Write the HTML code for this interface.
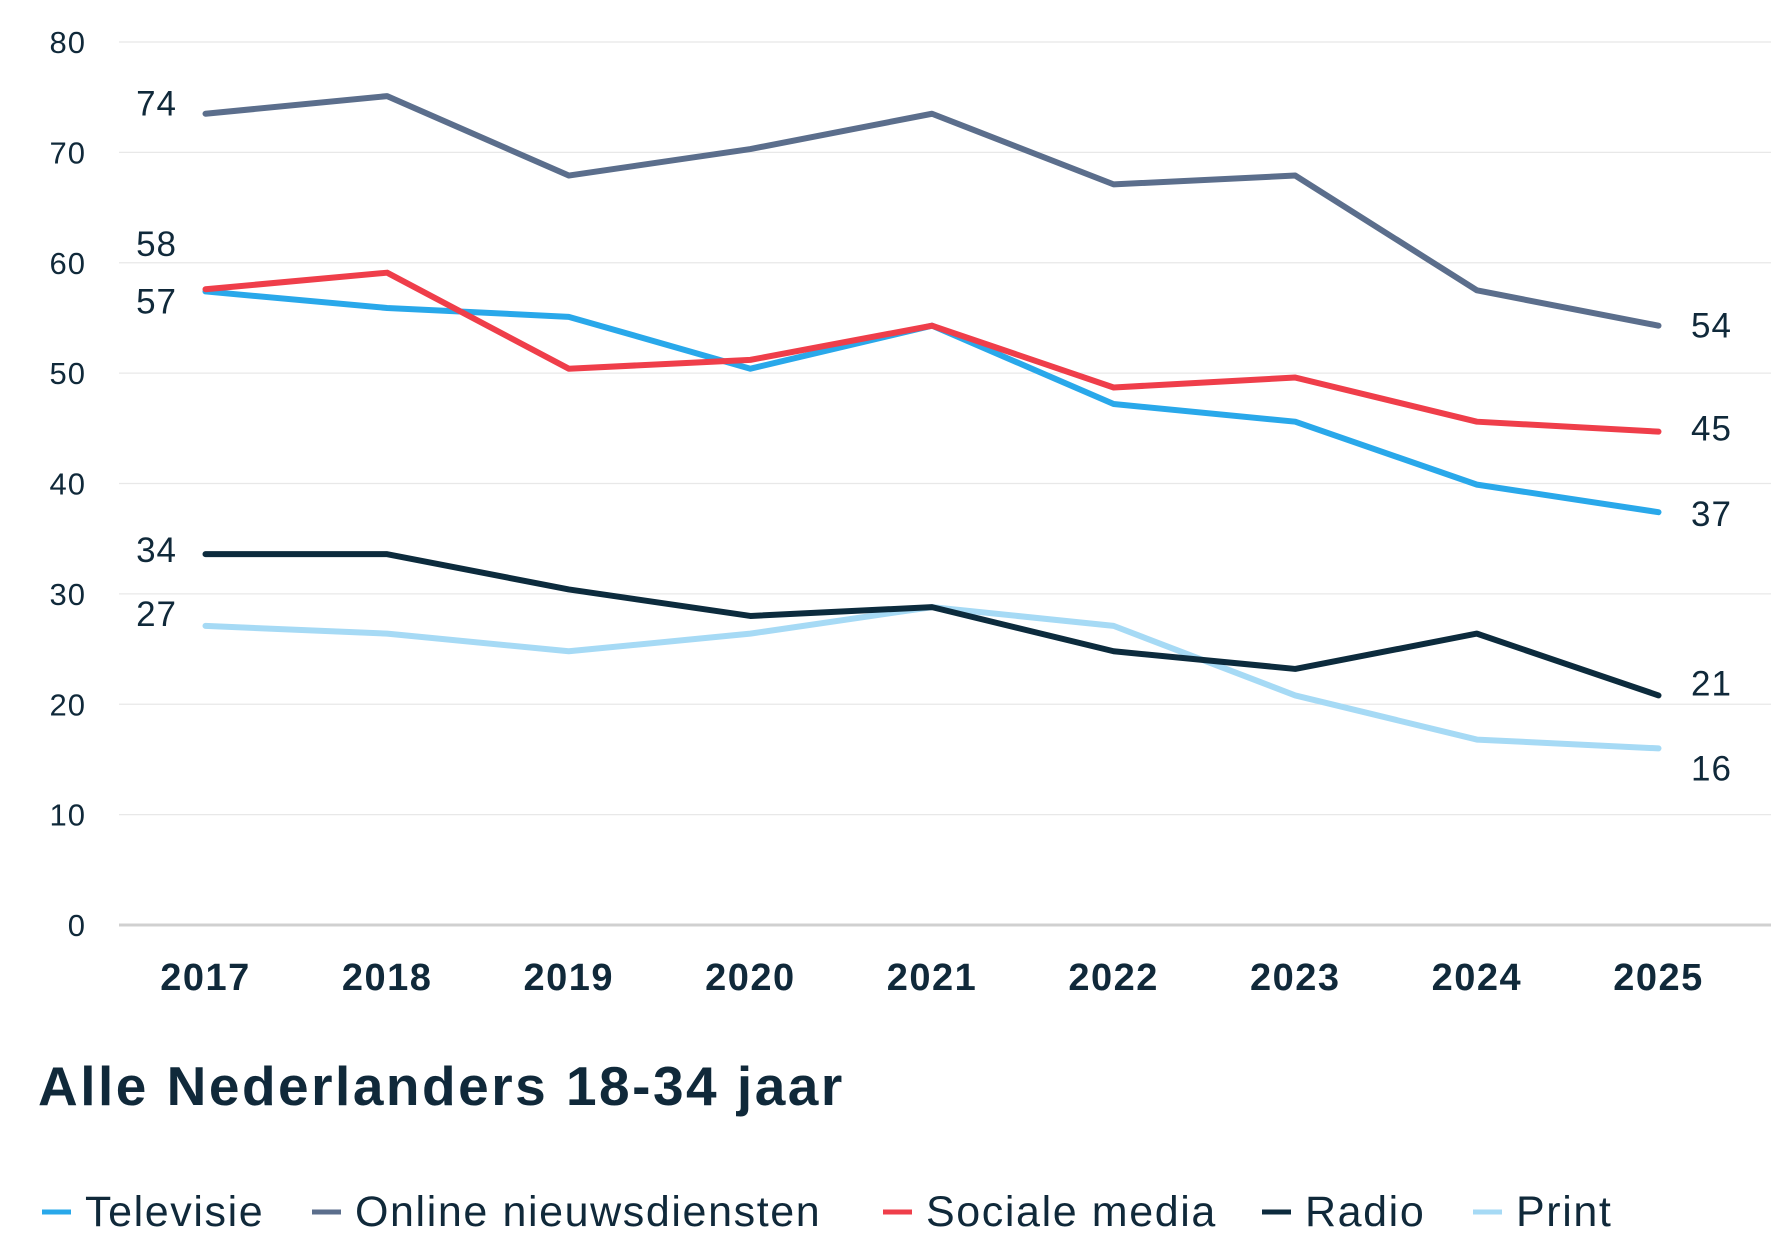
<!DOCTYPE html>
<html><head><meta charset="utf-8"><style>
body{margin:0;background:#fff;}
svg{display:block;font-family:"Liberation Sans",sans-serif;}
</style></head><body>
<svg id="chart" width="1780" height="1260" viewBox="0 0 1780 1260">
<g id="grid"></g>
<g id="lines"></g>
<g id="labels"></g>
<text x="38" y="1105" font-size="55" font-weight="bold" letter-spacing="2.5" fill="#10293a">Alle Nederlanders 18-34 jaar</text>
<g id="legend"></g>
</svg>
<script>
const years = ["2017","2018","2019","2020","2021","2022","2023","2024","2025"];
const yTicks = [0,10,20,30,40,50,60,70,80];
const televisie = [57.4,55.9,55.1,50.4,54.3,47.2,45.6,39.9,37.4];
const online = [73.5,75.1,67.9,70.3,73.5,67.1,67.9,57.5,54.3];
const sociaal = [57.6,59.1,50.4,51.2,54.3,48.7,49.6,45.6,44.7];
const radio = [33.6,33.6,30.4,28.0,28.8,24.8,23.2,26.4,20.8];
const print = [27.1,26.4,24.8,26.4,28.8,27.1,20.8,16.8,16.0];
const seriesNames = ["Televisie","Online nieuwsdiensten","Sociale media","Radio","Print"];

const NS="http://www.w3.org/2000/svg";
const x0=205.5,x1=1658.5,yTop=42,yBot=925,vMax=80;
const X=i=>x0+(x1-x0)*i/(years.length-1);
const Y=v=>yBot-(yBot-yTop)*v/vMax;
function mk(tag,attrs,parent,text){const e=document.createElementNS(NS,tag);for(const k in attrs)e.setAttribute(k,attrs[k]);if(text!==undefined)e.textContent=text;parent.appendChild(e);return e;}
const grid=document.getElementById('grid');
yTicks.forEach(t=>{
  const l=mk('line',{x1:119,x2:1771,y1:Y(t),y2:Y(t),stroke:t===0?'#d0d0d0':'#e8e8e8','stroke-width':t===0?3:1.3},grid);
  
  
  const tx=mk('text',{x:86,y:Y(t)+11,'font-size':31,'letter-spacing':1,'text-anchor':'end',fill:'#10293a'},grid,String(t));
  
  
});
years.forEach((yr,i)=>{
  const tx=mk('text',{x:X(i),y:990,'font-size':38,'font-weight':'bold','letter-spacing':1.5,'text-anchor':'middle',fill:'#10293a'},grid,yr);
  
  
});
const series=[
 {d:televisie,c:'#29a8ea',n:'televisie',sdy:22,edy:2},
 {d:online,c:'#5b6e8c',n:'online',sdy:2,edy:0},
 {d:print,c:'#a6daf5',n:'print',sdy:0,edy:20},
 {d:radio,c:'#0c2b3d',n:'radio',sdy:8,edy:-12},
 {d:sociaal,c:'#ef3e4a',n:'sociale-media',sdy:-33,edy:-3},
];
const lines=document.getElementById('lines'),labels=document.getElementById('labels');
series.forEach(s=>{
  const p=mk('polyline',{points:s.d.map((v,i)=>X(i)+','+Y(v)).join(' '),fill:'none',stroke:s.c,'stroke-width':6,'stroke-linejoin':'round','stroke-linecap':'round'},lines);
  
  
  const a=mk('text',{x:177,y:Y(s.d[0])+s.sdy,'font-size':35,'letter-spacing':1,'text-anchor':'end',fill:'#10293a'},labels,String(Math.round(s.d[0])));
  
  
  const last=s.d[s.d.length-1];
  const b=mk('text',{x:1691,y:Y(last)+12+s.edy,'font-size':35,'letter-spacing':1,fill:'#10293a'},labels,String(Math.round(last)));
  
  
});
const legend=document.getElementById('legend');
const legCols=['#29a8ea','#5b6e8c','#ef3e4a','#0c2b3d','#a6daf5'];
const legX=[42,312,883,1262,1473];
seriesNames.forEach((nm,i)=>{
  const g=mk('g',{},legend);
  
  
  mk('line',{x1:legX[i],x2:legX[i]+29,y1:1212,y2:1212,stroke:legCols[i],'stroke-width':5},g);
  mk('text',{x:legX[i]+43,y:1226,'font-size':43,'letter-spacing':1.6,fill:'#10293a'},g,nm);
});
</script>
</body></html>
